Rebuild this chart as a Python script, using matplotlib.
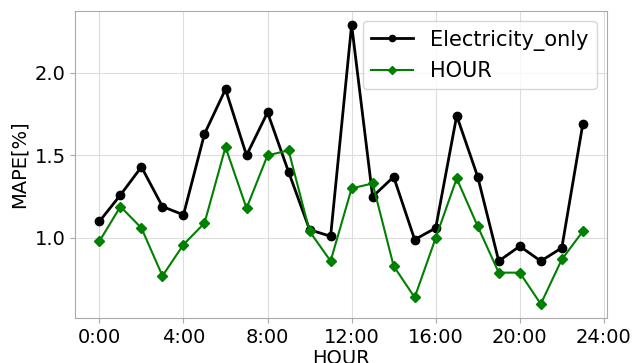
import matplotlib
matplotlib.use('Agg')
import matplotlib.pyplot as plt

# 每小时的 MAPE 值
hours = list(range(24))
electricity_only = [1.10, 1.26, 1.43, 1.19, 1.14, 1.63, 1.90, 1.50, 1.76, 1.40, 1.05, 1.01,
                    2.29, 1.25, 1.37, 0.99, 1.06, 1.74, 1.37, 0.86, 0.95, 0.86, 0.94, 1.69]
hour_feat = [0.98, 1.19, 1.06, 0.77, 0.96, 1.09, 1.55, 1.18, 1.50, 1.53, 1.04, 0.86,
             1.30, 1.33, 0.83, 0.64, 1.00, 1.36, 1.07, 0.79, 0.79, 0.60, 0.87, 1.04]
tick_pos = [0, 4, 8, 12, 16, 20, 24]
tick_labels = ['0:00', '4:00', '8:00', '12:00', '16:00', '20:00', '24:00']


def main():
    plt.rcParams['font.family'] = ['DejaVu Sans']
    fig, ax = plt.subplots(figsize=(6.43, 3.63), dpi=100)
    fig.subplots_adjust(left=0.117, right=0.944, top=0.970, bottom=0.124)

    ax.plot(hours, electricity_only, color='black', marker='o', markersize=6,
            linewidth=2, label='Electricity_only')
    ax.plot(hours, hour_feat, color='green', marker='D', markersize=5,
            linewidth=1.5, label='HOUR')

    ax.set_xticks(tick_pos)
    ax.set_xticklabels(tick_labels)
    ax.set_yticks([1.0, 1.5, 2.0])
    ax.tick_params(labelsize=14, color='#aaaaaa')
    ax.set_xlabel('HOUR', fontsize=14, labelpad=2)
    ax.set_ylabel('MAPE[%]', fontsize=14)
    ax.grid(True, color='#dddddd', linewidth=0.8)
    for s in ax.spines.values():
        s.set_color('#aaaaaa')
    ax.legend(loc='upper right', fontsize=15, framealpha=0.8, markerscale=0.75)

    plt.savefig('out.png')


if __name__ == '__main__':
    main()
